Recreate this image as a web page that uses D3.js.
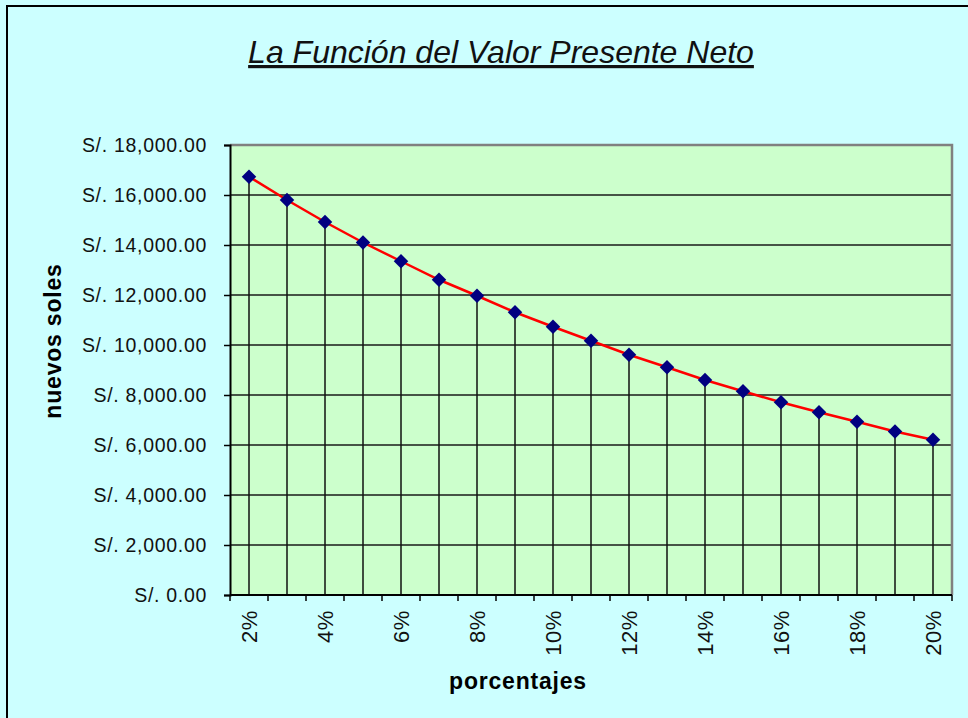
<!DOCTYPE html>
<html>
<head>
<meta charset="utf-8">
<script src="https://cdn.jsdelivr.net/npm/d3@7"></script>
<style>
body { margin: 0; background: #ccffff; }
svg { display: block; font-family: "Liberation Sans", Arial, sans-serif; }
</style>
</head>
<body>
<svg id="plot"></svg>
<script>
let rates = [2, 3, 4, 5, 6, 7, 8, 9, 10, 11, 12, 13, 14, 15, 16, 17, 18, 19, 20]
let npv = [16730, 15800, 14920, 14100, 13350, 12610, 11970, 11310, 10730,
  10170, 9610, 9110, 8600, 8150, 7710, 7310, 6930, 6540, 6210]
let yTicks = [0, 2000, 4000, 6000, 8000, 10000, 12000, 14000, 16000, 18000]
let labeled = [2, 4, 6, 8, 10, 12, 14, 16, 18, 20]

let data = rates.map((r, i) => ({rate: r, value: npv[i]}))

let svgwidth = 968, svgheight = 718
let margin_left = 230, margin_right = 16, margin_top = 145, margin_bottom = 123
let plot_width = svgwidth - margin_left - margin_right
let plot_height = svgheight - margin_top - margin_bottom

let svg = d3.select("#plot").attr("width", svgwidth).attr("height", svgheight)

// outer frame
svg.append("rect")
  .attr("x", 7).attr("y", 6)
  .attr("width", svgwidth).attr("height", svgheight)
  .attr("fill", "#ccffff")
  .attr("stroke", "black").attr("stroke-width", 2)

let x_scale = d3.scaleBand(rates, [margin_left, margin_left + plot_width])
let y_scale = d3.scaleLinear([0, 18000], [margin_top + plot_height, margin_top])
let cx = (d) => x_scale(d) + x_scale.bandwidth() / 2

// plot area
svg.append("rect")
  .attr("x", margin_left).attr("y", margin_top)
  .attr("width", plot_width).attr("height", plot_height)
  .attr("fill", "#ccffcc")

// horizontal gridlines
svg.append("g").selectAll("line")
  .data(yTicks.slice(1))
  .join("line")
  .attr("x1", margin_left).attr("x2", margin_left + plot_width)
  .attr("y1", (d) => y_scale(d)).attr("y2", (d) => y_scale(d))
  .attr("stroke", "#1a1a1a").attr("stroke-width", 1.3)

// gray border top and right
svg.append("path")
  .attr("d", `M${margin_left},${margin_top}H${margin_left + plot_width}V${margin_top + plot_height}`)
  .attr("fill", "none").attr("stroke", "#808080").attr("stroke-width", 2.5)

// drop lines
svg.append("g").selectAll("line")
  .data(data)
  .join("line")
  .attr("x1", (d) => cx(d.rate)).attr("x2", (d) => cx(d.rate))
  .attr("y1", (d) => y_scale(d.value)).attr("y2", y_scale(0))
  .attr("stroke", "#111").attr("stroke-width", 1.5)

// y axis
let yAxis = d3.axisLeft(y_scale).tickValues(yTicks).tickSize(6).tickPadding(17)
  .tickFormat((d) => "S/. " + d3.format(",.2f")(d))
let gy = svg.append("g")
  .attr("transform", `translate(${margin_left},0)`)
  .call(yAxis)
gy.select(".domain").attr("stroke", "black").attr("stroke-width", 2)
gy.selectAll(".tick line").attr("stroke", "black").attr("stroke-width", 1.5)
gy.selectAll(".tick text").attr("font-size", 19.5).attr("fill", "#111")
  .attr("letter-spacing", 0.7)
  .attr("font-family", "Liberation Sans, Arial, sans-serif")

// x axis: ticks at category boundaries
let bounds = rates.map((r) => x_scale(r)).concat([margin_left + plot_width])
let gx = svg.append("g")
gx.append("line")
  .attr("x1", margin_left).attr("x2", margin_left + plot_width)
  .attr("y1", y_scale(0)).attr("y2", y_scale(0))
  .attr("stroke", "black").attr("stroke-width", 2)
gx.selectAll(".xt")
  .data(bounds)
  .join("line")
  .attr("class", "xt")
  .attr("x1", (d) => d).attr("x2", (d) => d)
  .attr("y1", y_scale(0)).attr("y2", y_scale(0) + 6)
  .attr("stroke", "black").attr("stroke-width", 1.5)
gx.selectAll("text")
  .data(labeled)
  .join("text")
  .attr("transform", (d) => `translate(${cx(d) + 8},${y_scale(0) + 15}) rotate(-90)`)
  .attr("text-anchor", "end")
  .attr("font-size", 22).attr("letter-spacing", 0.6).attr("fill", "#111")
  .text((d) => d + "%")

// line
let line = d3.line().x((d) => cx(d.rate)).y((d) => y_scale(d.value))
svg.append("path")
  .datum(data)
  .attr("d", line)
  .attr("fill", "none").attr("stroke", "#ff0000").attr("stroke-width", 2.5)

// markers
svg.append("g").selectAll("path")
  .data(data)
  .join("path")
  .attr("d", d3.symbol(d3.symbolSquare, 105))
  .attr("transform", (d) => `translate(${cx(d.rate)},${y_scale(d.value)}) rotate(45)`)
  .attr("fill", "#000080")

// title
svg.append("text")
  .attr("x", 501).attr("y", 63)
  .attr("text-anchor", "middle")
  .attr("font-size", 32).attr("font-style", "italic")
  .attr("text-decoration", "underline")
  .attr("fill", "#111")
  .text("La Función del Valor Presente Neto")

// axis titles
svg.append("text")
  .attr("transform", `translate(61,341) rotate(-90)`)
  .attr("text-anchor", "middle")
  .attr("font-size", 23).attr("font-weight", "bold")
  .attr("letter-spacing", 0.8)
  .text("nuevos soles")

svg.append("text")
  .attr("x", 518).attr("y", 689)
  .attr("text-anchor", "middle")
  .attr("font-size", 23).attr("font-weight", "bold")
  .attr("letter-spacing", 0.8)
  .text("porcentajes")
</script>
</body>
</html>
